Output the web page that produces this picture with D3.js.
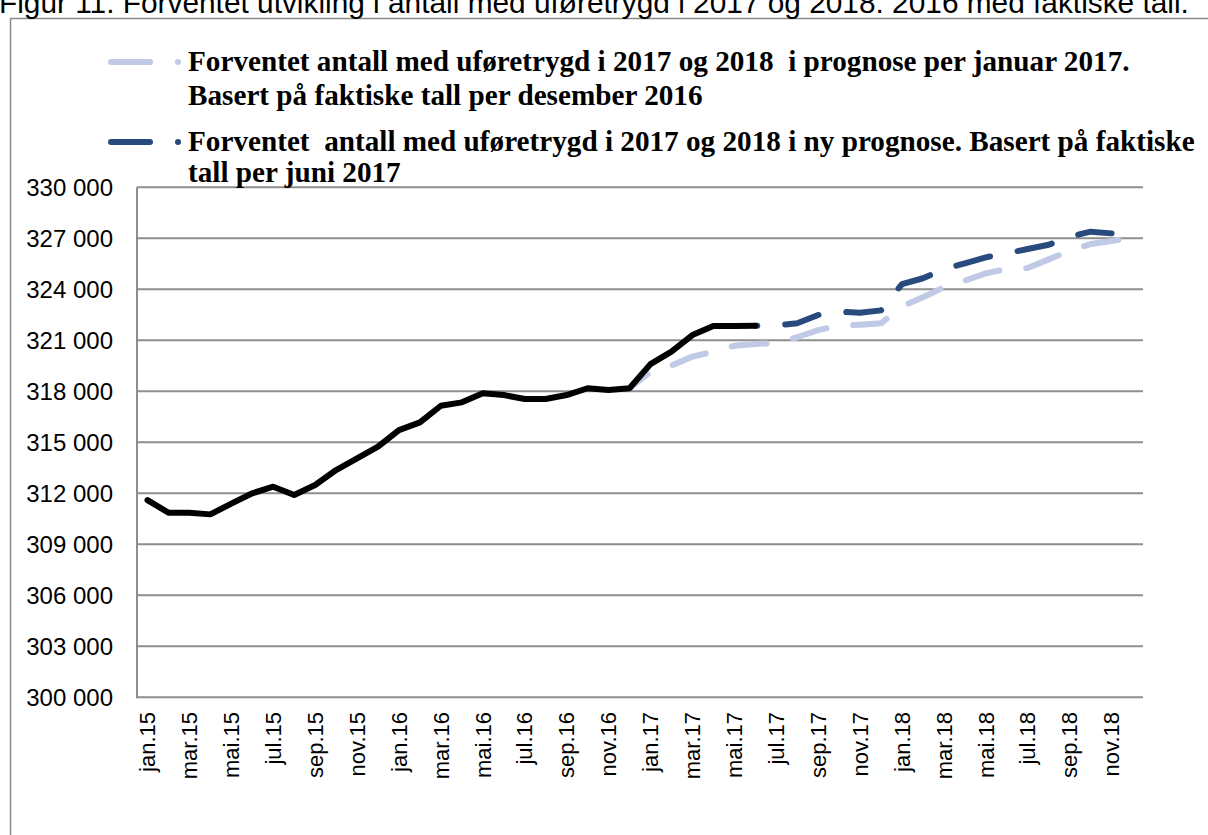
<!DOCTYPE html>
<html><head><meta charset="utf-8">
<script src="https://cdn.jsdelivr.net/npm/d3@7/dist/d3.min.js"></script>
<style>body{margin:0;background:#fff}svg{display:block}text{white-space:pre}</style>
</head><body><svg id="c" width="1208" height="835"></svg>
<script>
const title = "Figur 11. Forventet utvikling i antall med uføretrygd i 2017 og 2018. 2016 med faktiske tall.";
const months = ["jan.15","feb.15","mar.15","apr.15","mai.15","jun.15","jul.15","aug.15","sep.15","okt.15","nov.15","des.15",
"jan.16","feb.16","mar.16","apr.16","mai.16","jun.16","jul.16","aug.16","sep.16","okt.16","nov.16","des.16",
"jan.17","feb.17","mar.17","apr.17","mai.17","jun.17","jul.17","aug.17","sep.17","okt.17","nov.17","des.17",
"jan.18","feb.18","mar.18","apr.18","mai.18","jun.18","jul.18","aug.18","sep.18","okt.18","nov.18","des.18"];
const xTickLabels = months.filter((m,i)=>i%2===0);
const yTicks = [300000,303000,306000,309000,312000,315000,318000,321000,324000,327000,330000];
// faktiske tall (jan.15 - jun.17)
const actual = [311600,310860,310860,310760,311390,312000,312390,311900,312490,313370,314060,314740,
315720,316170,317150,317350,317880,317780,317550,317550,317780,318180,318080,318180,
319600,320330,321310,321840,321840,321860];
// prognose per januar 2017 (des.16 - des.18)
const progJan = [318180,319150,319510,320040,320330,320680,320780,320840,321180,321600,321850,321920,322000,
323000,323530,324120,324510,324940,325190,325250,325760,326270,326660,326840,327040];
const progJanStart = 23;
// ny prognose (jun.17 - nov.18)
const progJun = [321860,321880,322000,322490,322680,322620,322760,324310,324650,325180,325530,325880,
326120,326370,326620,327090,327390,327290];
const progJunStart = 29;
const legendLines = [
  ["Forventet antall med uføretrygd i 2017 og 2018  i prognose per januar 2017.", "Basert på faktiske tall per desember 2016"],
  ["Forventet  antall med uføretrygd i 2017 og 2018 i ny prognose. Basert på faktiske", "tall per juni 2017"]
];
const colors = {light:"#c0c9e6", dark:"#284a7c", actual:"#000000", grid:"#8e8e8e"};

const svg = d3.select("#c");
svg.append("rect").attr("width",1208).attr("height",835).attr("fill","#fff");
// frame
svg.append("rect").attr("x",10.5).attr("y",18.5).attr("width",1260).attr("height",900)
  .attr("fill","none").attr("stroke","#8a8a8a").attr("stroke-width",1.5);
// title (cut off at the top, as in the source image)
const tt = svg.append("text").attr("x",-1).attr("y",13).attr("font-family","Liberation Sans, Arial, sans-serif")
  .attr("font-size",24).attr("fill","#000").text(title);
const tw = tt.node().getComputedTextLength();
tt.attr("font-size", 24*1190/tw);

const x = d3.scaleBand().domain(months).range([137,1143]).padding(0);
const cx = m => x(m) + x.bandwidth()/2;
const y = d3.scaleLinear().domain([300000,330000]).range([697.3,187.3]);

// grid
svg.append("g").selectAll("line").data(yTicks).join("line")
  .attr("x1",137).attr("x2",1143).attr("y1",d=>y(d)).attr("y2",d=>y(d))
  .attr("stroke",colors.grid).attr("stroke-width",2);
svg.append("line").attr("x1",137).attr("x2",137).attr("y1",y(330000)).attr("y2",y(300000)+1)
  .attr("stroke",colors.grid).attr("stroke-width",2);

const loc = d3.formatLocale({thousands:"\u00a0",grouping:[3],decimal:",",currency:["",""]});
const fmt = loc.format(",");
const yAxis = svg.append("g").attr("transform","translate(113,0)")
  .call(d3.axisLeft(y).tickValues(yTicks).tickSize(0).tickPadding(0).tickFormat(fmt));
yAxis.select(".domain").remove();
yAxis.selectAll("text").attr("font-family","Liberation Sans, Arial, sans-serif")
  .attr("font-size",24).attr("fill","#000").attr("dy","0.35em");

const xAxis = svg.append("g").attr("transform","translate(0,697)")
  .call(d3.axisBottom(x).tickValues(xTickLabels).tickSize(0).tickPadding(0));
xAxis.select(".domain").remove();
xAxis.selectAll("text").attr("font-family","Liberation Sans, Arial, sans-serif").attr("font-size",22)
  .attr("fill","#000").attr("text-anchor","end").attr("dy","0.35em")
  .attr("transform","translate(0,15) rotate(-90)").attr("x",0).attr("y",0);

const line = d3.line().x(d=>cx(d.m)).y(d=>y(d.v));
const ser = (arr,start)=>arr.map((v,i)=>({m:months[start+i],v}));

svg.append("path").datum(ser(progJan,progJanStart)).attr("d",line).attr("fill","none")
  .attr("stroke",colors.light).attr("stroke-width",6).attr("stroke-linecap","round").attr("stroke-linejoin","round")
  .attr("stroke-dasharray","35,27").attr("stroke-dashoffset",12);
svg.append("path").datum(ser(progJun,progJunStart)).attr("d",line).attr("fill","none")
  .attr("stroke",colors.dark).attr("stroke-width",6).attr("stroke-linecap","round").attr("stroke-linejoin","round")
  .attr("stroke-dasharray","35,28").attr("stroke-dashoffset",33);
svg.append("path").datum(ser(actual,0)).attr("d",line).attr("fill","none")
  .attr("stroke",colors.actual).attr("stroke-width",6).attr("stroke-linecap","round").attr("stroke-linejoin","round");

// legend
const legY = [62, 142];
const legGap = [34, 31];
const legColors = [colors.light, colors.dark];
const legG = svg.append("g");
const legTexts = [];
legendLines.forEach((lines,k)=>{
  legG.append("line").attr("x1",111).attr("x2",150).attr("y1",legY[k]).attr("y2",legY[k])
    .attr("stroke",legColors[k]).attr("stroke-width",6).attr("stroke-linecap","round");
  legG.append("circle").attr("cx",178).attr("cy",legY[k]).attr("r",3).attr("fill",legColors[k]);
  lines.forEach((t,j)=>{
    legTexts.push(legG.append("text").attr("x",188).attr("y",legY[k]+9+j*legGap[k])
      .attr("font-family","Liberation Serif, Times New Roman, serif")
      .attr("font-weight","bold").attr("font-size",24).attr("fill","#000").text(t));
  });
});
const w3 = legTexts[2].node().getComputedTextLength();
legTexts.forEach(t=>t.attr("font-size",24*1007/w3));
</script></body></html>
